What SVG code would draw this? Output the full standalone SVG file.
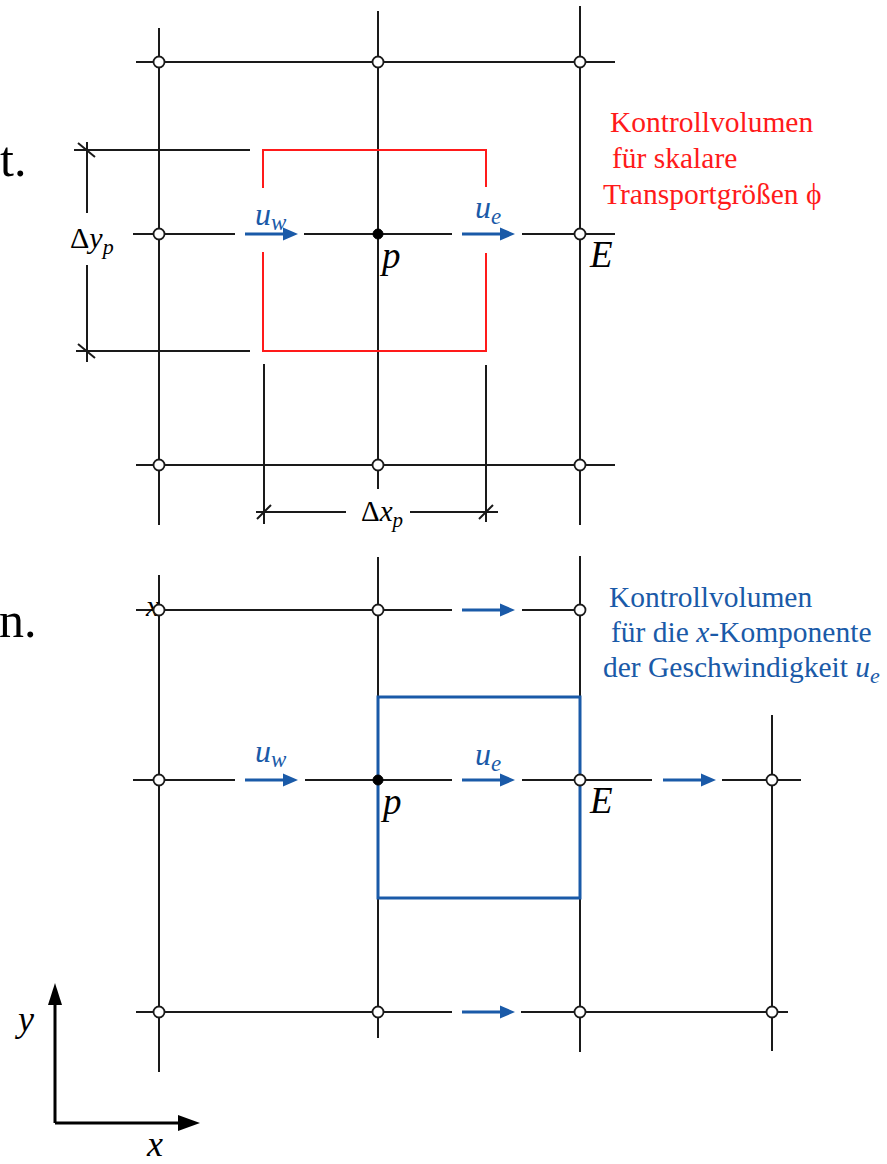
<svg xmlns="http://www.w3.org/2000/svg" width="887" height="1164" viewBox="0 0 887 1164">
<style>
.g{stroke:#1a1a1a;stroke-width:2;fill:none}
.red{stroke:#ff1a1a;stroke-width:2;fill:none}
.blu{stroke:#1a5aa8;stroke-width:3;fill:none}
.bh{fill:#1a5aa8}
.ax{stroke:#000;stroke-width:3;fill:none}
.nd{fill:#fff;stroke:#1a1a1a;stroke-width:1.8}
.nf{fill:#000;stroke:#000;stroke-width:1}
.t{font-family:"Liberation Serif",serif}
.i{font-family:"Liberation Serif",serif;font-style:italic}
.bt{fill:#1a5aa8}
.rt{fill:#ff1a1a}
</style>
<defs>
<g id="arr">
<path class="blu" d="M0,0H42"/>
<path class="bh" d="M38,-6.5L53,0L38,6.5z"/>
</g>
</defs>

<!-- partial margin text -->
<text class="t" x="0" y="176" font-size="50">t.</text>
<text class="t" x="-1" y="637" font-size="50">n.</text>

<g id="connectors">
<!-- top grid -->
<path class="g" d="M159,28V525 M378,11V489 M580,6V525 M136,62H615 M136,465H615 M133,234H235 M304,234H452 M522,234H615"/>
<!-- dimension lines top -->
<path class="g" d="M264,364V524 M486,365V522 M74,150H250 M76,351H250 M87,142V213 M87,265V362 M256,512H346 M410,512H498"/>
<path class="g" d="M78,143L95,157 M78,344L95,358 M257,519L271,505 M479,519L493,505"/>
<!-- red control volume -->
<path class="red" d="M263,188V150H486V187 M263,252V351H486V253"/>
<!-- top velocity arrows -->
<use href="#arr" x="245" y="234"/>
<use href="#arr" x="462" y="234"/>

<!-- bottom grid -->
<path class="g" d="M159,575V1072 M378,557V1038 M580,556V1052 M772,715V1051 M136,610H452 M522,610H580 M133,780H235 M305,780H452 M522,780H652 M722,780H801 M136,1012H452 M521,1012H788"/>
<!-- blue control volume -->
<rect class="blu" x="378" y="697" width="202" height="201"/>
<!-- bottom velocity arrows -->
<use href="#arr" x="245" y="780"/>
<use href="#arr" x="462" y="610"/>
<use href="#arr" x="462" y="780"/>
<use href="#arr" x="663" y="780"/>
<use href="#arr" x="462" y="1012"/>

<!-- axes -->
<path class="ax" d="M55,1123V1000 M55,1123H182"/>
<path d="M48,1005L55,983L62,1005z" fill="#000"/>
<path d="M178,1115L200,1123L178,1131z" fill="#000"/>
</g>

<text class="i" x="146" y="616" font-size="30">x</text>

<g id="nodes-top">
<circle class="nd" cx="159" cy="62" r="5.5"/>
<circle class="nd" cx="378" cy="62" r="5.5"/>
<circle class="nd" cx="580" cy="62" r="5.5"/>
<circle class="nd" cx="159" cy="234" r="5.5"/>
<circle class="nf" cx="378" cy="234" r="5"/>
<circle class="nd" cx="580" cy="234" r="5.5"/>
<circle class="nd" cx="159" cy="465" r="5.5"/>
<circle class="nd" cx="378" cy="465" r="5.5"/>
<circle class="nd" cx="580" cy="465" r="5.5"/>
</g>

<g id="nodes-bottom">
<circle class="nd" cx="159" cy="610" r="5.5"/>
<circle class="nd" cx="378" cy="610" r="5.5"/>
<circle class="nd" cx="580" cy="610" r="5.5"/>
<circle class="nd" cx="159" cy="780" r="5.5"/>
<circle class="nf" cx="378" cy="780" r="5"/>
<circle class="nd" cx="580" cy="780" r="5.5"/>
<circle class="nd" cx="772" cy="780" r="5.5"/>
<circle class="nd" cx="159" cy="1012" r="5.5"/>
<circle class="nd" cx="378" cy="1012" r="5.5"/>
<circle class="nd" cx="580" cy="1012" r="5.5"/>
<circle class="nd" cx="772" cy="1012" r="5.5"/>
</g>

<g id="labels-top">
<text class="i bt" x="255" y="225" font-size="32">u<tspan font-size="23" dy="5">w</tspan></text>
<text class="i bt" x="475" y="218" font-size="32">u<tspan font-size="23" dy="6">e</tspan></text>
<text class="i" x="382" y="268" font-size="37">p</text>
<text class="i" x="590" y="267" font-size="37">E</text>
<text class="t" x="70" y="248" font-size="30">Δ<tspan class="i">y</tspan><tspan class="i" font-size="22" dy="6">p</tspan></text>
<text class="t" x="361" y="521" font-size="29">Δ<tspan class="i">x</tspan><tspan class="i" font-size="21" dy="6">p</tspan></text>
</g>

<g id="label-red" class="t rt" font-size="29.5">
<text x="610" y="132">Kontrollvolumen</text>
<text x="612" y="168">für skalare</text>
<text x="603" y="204">Transportgrößen ϕ</text>
</g>

<g id="labels-bottom">
<text class="i bt" x="255" y="762" font-size="32">u<tspan font-size="23" dy="5">w</tspan></text>
<text class="i bt" x="475" y="765" font-size="32">u<tspan font-size="23" dy="6">e</tspan></text>
<text class="i" x="383" y="814" font-size="37">p</text>
<text class="i" x="590" y="813" font-size="37">E</text>
</g>

<g id="label-blue" class="t bt" font-size="29.5">
<text x="609" y="607">Kontrollvolumen</text>
<text x="611" y="642">für die <tspan class="i">x</tspan>-Komponente</text>
<text x="603" y="677">der Geschwindigkeit <tspan class="i">u</tspan><tspan class="i" font-size="22" dy="6">e</tspan></text>
</g>

<g id="axis-labels">
<text class="i" x="18" y="1031" font-size="36">y</text>
<text class="i" x="147" y="1156" font-size="36">x</text>
</g>
</svg>
